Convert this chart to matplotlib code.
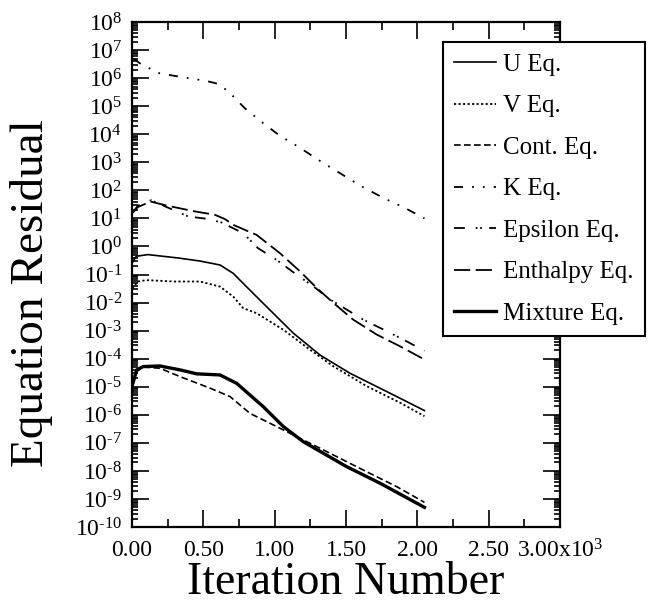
import numpy as np
import matplotlib
matplotlib.use('Agg')
import matplotlib.pyplot as plt
from matplotlib.ticker import FixedLocator, MultipleLocator, LogLocator, NullFormatter

plt.rcParams['font.family'] = ['Liberation Serif', 'DejaVu Serif']
plt.rcParams['mathtext.fontset'] = 'custom'
plt.rcParams['mathtext.rm'] = 'Liberation Serif'
plt.rcParams['mathtext.it'] = 'Liberation Serif:italic'

# residual curves, values are log10 of the residual
u_iter = [5, 30, 112, 322, 477, 617, 710, 790, 944, 1131, 1318, 1528, 1785, 2050]
u_log = [-0.55, -0.35, -0.29, -0.41, -0.52, -0.66, -0.96, -1.37, -2.15, -3.09, -3.87, -4.52, -5.17, -5.85]

v_iter = [3, 40, 100, 300, 477, 617, 710, 780, 874, 1061, 1248, 1411, 1645, 1879, 2050]
v_log = [-1.5, -1.25, -1.2, -1.25, -1.25, -1.43, -1.79, -2.20, -2.38, -2.97, -3.68, -4.27, -4.98, -5.57, -6.05]

cont_iter = [3, 20, 80, 196, 337, 547, 687, 827, 990, 1155, 1341, 1621, 1855, 2050]
cont_log = [-5.2, -4.5, -4.3, -4.34, -4.64, -5.05, -5.35, -5.95, -6.36, -6.78, -7.25, -7.97, -8.56, -9.12]

k_iter = [10, 65, 194, 357, 521, 600, 673, 790, 918, 1035, 1164, 1339, 1610, 1762, 1914, 2050]
k_log = [6.7, 6.49, 6.17, 6.03, 5.90, 5.80, 5.54, 4.93, 4.40, 3.95, 3.56, 2.98, 2.14, 1.73, 1.37, 1.0]

eps_iter = [5, 40, 135, 200, 393, 533, 630, 780, 883, 1014, 1155, 1271, 1388, 1505, 1621, 1762, 1902, 2050]
eps_log = [1.2, 1.45, 1.65, 1.5, 1.07, 0.98, 0.85, 0.47, -0.06, -0.48, -1.01, -1.42, -1.89, -2.25, -2.61, -2.96, -3.32, -3.72]

enth_iter = [5, 40, 130, 250, 440, 580, 650, 710, 874, 1037, 1178, 1295, 1411, 1551, 1715, 1879, 2050]
enth_log = [1.2, 1.4, 1.6, 1.45, 1.25, 1.13, 0.98, 0.77, 0.41, -0.24, -0.89, -1.48, -2.01, -2.61, -3.14, -3.56, -4.03]

mix_iter = [0, 33, 79, 196, 337, 453, 617, 734, 920, 1061, 1201, 1341, 1505, 1739, 2050]
mix_log = [-5.0, -4.40, -4.28, -4.26, -4.40, -4.54, -4.58, -4.88, -5.71, -6.42, -6.96, -7.37, -7.85, -8.44, -9.30]

x_ticks = [0, 500, 1000, 1500, 2000, 2500, 3000]
x_labels = ['0.00', '0.50', '1.00', '1.50', '2.00', '2.50', r'3.00x10$^{3}$']
y_exps = list(range(-10, 9))

fig = plt.figure(figsize=(6.54, 6.03), dpi=100)
ax = fig.add_axes([0.2018, 0.126, 0.6545, 0.8375])

ax.plot(u_iter, 10.0 ** np.array(u_log), color='black', lw=1.2, label='U Eq.')
ax.plot(v_iter, 10.0 ** np.array(v_log), color='black', lw=1.3, ls=(0, (1.2, 1.3)), label='V Eq.')
ax.plot(cont_iter, 10.0 ** np.array(cont_log), color='black', lw=1.2, ls=(0, (4, 2)), label='Cont. Eq.')
ax.plot(k_iter, 10.0 ** np.array(k_log), color='black', lw=1.3, ls=(0, (5, 5, 1, 5, 1, 5)), label='K Eq.')
ax.plot(eps_iter, 10.0 ** np.array(eps_log), color='black', lw=1.3, ls=(0, (6, 6, 1, 1.5, 1, 4)), label='Epsilon Eq.')
ax.plot(enth_iter, 10.0 ** np.array(enth_log), color='black', lw=1.3, ls=(0, (9, 3)), label='Enthalpy Eq.')
ax.plot(mix_iter, 10.0 ** np.array(mix_log), color='black', lw=2.4, label='Mixture Eq.')

ax.set_yscale('log')
ax.set_xlim(0, 3000)
ax.set_ylim(1e-10, 1e8)

ax.xaxis.set_major_locator(FixedLocator(x_ticks))
ax.set_xticklabels(x_labels)
ax.xaxis.set_minor_locator(MultipleLocator(250))

ax.yaxis.set_major_locator(FixedLocator([10.0 ** e for e in y_exps]))
ax.set_yticklabels([r'$10^{%s}$' % str(e).replace('-', '\u2010') for e in y_exps])
ax.yaxis.set_minor_locator(LogLocator(base=10, subs=np.arange(2, 10), numticks=200))
ax.yaxis.set_minor_formatter(NullFormatter())

ax.tick_params(which='both', direction='in', top=True, right=True, width=1.2)
ax.tick_params(axis='x', which='major', length=12, labelsize=17, pad=9)
ax.tick_params(axis='x', which='minor', length=6)
ax.tick_params(axis='y', which='major', length=12, labelsize=17, pad=7)
ax.tick_params(axis='y', which='minor', length=4.5)

for spine in ax.spines.values():
    spine.set_linewidth(1.6)

ax.set_xlabel('Iteration Number', fontsize=33)
ax.set_ylabel('Equation Residual', fontsize=34)
ax.xaxis.set_label_coords(0.5, -0.068)
ax.yaxis.set_label_coords(-0.185, 0.463)

leg = ax.legend(loc='upper left', bbox_to_anchor=(0.727, 0.96), borderaxespad=0,
                fontsize=18, frameon=True, fancybox=False, edgecolor='black',
                handlelength=1.65, handletextpad=0.3, labelspacing=0.76,
                borderpad=0.45)
leg.get_frame().set_linewidth(1.5)
leg.get_frame().set_alpha(1)

fig.savefig('out.png', dpi=100)
